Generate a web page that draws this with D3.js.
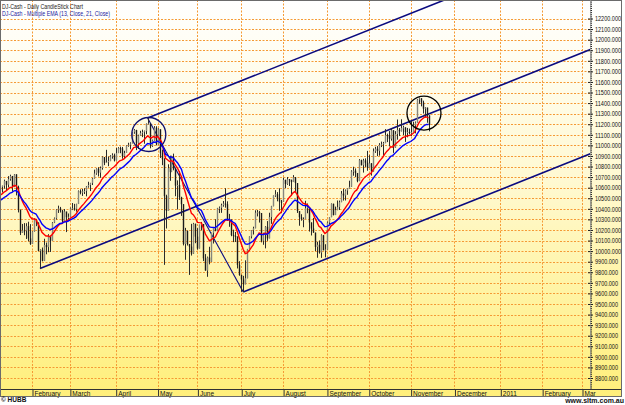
<!DOCTYPE html>
<html>
<head>
<meta charset="utf-8" />
<title>DJ-Cash - Daily CandleStick Chart</title>
<style>
body { margin: 0; background: #fff; }
svg { display: block; }
</style>
</head>
<body>
<div id="chart"></div>
<script src="https://d3js.org/d3.v7.min.js"></script>
<script>
// DJ-Cash daily bars, 4 Jan 2010 .. 12 Nov 2010 (one entry per trading day)
var opens = [
10430,10583,10572,10574,10607,10619,10664,10628,10681,10711,10610,10726,10604,10390,10173,10196,10194,10236,10120,
10067,10185,10297,10271,10003,10013,9908,10058,10038,10145,10099,10269,10310,10392,10403,10383,10283,10375,10321,
10325,10404,10405,10397,10445,10567,10553,10565,10568,10612,10625,10643,10686,10734,10779,10742,10786,10889,10836,10842,10851,10896,10907,
10857,10927,10974,10970,10898,10928,10998,11006,11019,11124,11145,11019,11093,11118,11125,11135,11205,11206,10992,11046,11168,
11009,11152,10926,10868,10520,10380,10785,10749,10897,10782,10620,10625,10510,10444,10068,10193,10067,10043,9975,10259,
10137,10025,10250,10256,9932,9816,9940,9899,10173,10212,10191,10405,10410,10434,10450,10443,10294,10298,10152,10144,10138,9870,
9774,9732,9686,9744,10019,10139,10198,10216,10364,10367,10360,10098,10155,10230,10120,10322,10425,10525,10538,10497,10468,
10466,10674,10636,10680,10675,10653,10699,10644,10379,10320,10303,10303,10406,10416,10271,10214,10175,10040,10060,9986,10150,10010,
10015,10270,10321,10448,10341,10388,10416,10463,10544,10526,10573,10595,10608,10754,10761,10739,10662,10860,10813,10858,10836,
10788,10830,10752,10944,10968,10948,11006,11010,11021,11097,11095,11063,11143,10979,11108,11147,11133,11165,11170,11126,11127,
11118,11125,11189,11216,11434,11445,11406,11347,11357,11284
];
var highs = [
10604,10584,10594,10612,10619,10676,10663,10709,10723,10710,10729,10726,10619,10394,10257,10265,10264,10278,10255,
10187,10310,10303,10270,10017,10034,10117,10081,10160,10145,10275,10318,10396,10430,10418,10391,10398,10371,10356,
10412,10455,10447,10448,10574,10584,10589,10594,10616,10656,10646,10692,10770,10783,10793,10800,10896,10888,10958,10895,10907,10925,10922,
10975,10983,10988,10985,10949,11000,11025,11029,11124,11154,11147,11101,11138,11149,11140,11207,11258,11207,11055,11182,11181,
11162,11151,10960,10879,10533,10821,10903,10902,10922,10780,10669,10758,10514,10443,10220,10193,10066,10258,10267,10259,
10217,10250,10276,10255,9972,9948,10041,10174,10213,10302,10409,10422,10449,10474,10594,10471,10352,10298,10203,10181,10138,9905,
9777,9766,9913,10021,10139,10199,10231,10386,10389,10381,10360,10174,10236,10284,10363,10428,10526,10577,10558,10594,10484,
10695,10675,10701,10681,10675,10719,10700,10644,10378,10349,10319,10476,10450,10416,10271,10314,10175,10089,10101,10159,10150,10065,
10279,10321,10451,10448,10421,10479,10478,10569,10589,10583,10596,10666,10765,10798,10782,10739,10870,10865,10873,10877,10948,
10907,10832,10971,10987,10993,11021,11036,11033,11154,11111,11136,11160,11142,11135,11245,11164,11247,11186,11170,11165,11159,
11233,11224,11226,11439,11452,11445,11423,11361,11357,11284
];
var lows = [
10430,10522,10546,10505,10554,10591,10569,10602,10666,10561,10605,10527,10366,10152,10172,10150,10115,10093,10059,
10067,10185,10236,9998,9835,9903,9908,9970,9990,9992,10100,10265,10299,10361,10365,10261,10283,10180,10285,
10325,10388,10383,10373,10446,10537,10522,10540,10518,10600,10568,10625,10686,10722,10706,10693,10770,10813,10836,10803,10851,10874,10848,
10857,10927,10926,10874,10875,10928,10987,10963,11019,11110,10955,10966,11092,11078,11016,11105,11199,10972,10985,11044,11000,
11009,10881,10813,9870,10214,10388,10665,10747,10764,10519,10394,10484,10333,10054,9918,10053,9775,9958,9974,10075,
10014,10025,10196,9906,9815,9757,9875,9899,10072,10188,10191,10360,10362,10420,10411,10285,10230,10141,10085,10086,9836,9767,
9615,9614,9686,9743,10019,10120,10157,10216,10328,10270,10083,10060,10026,10097,10121,10258,10424,10513,10471,10381,10359,
10466,10595,10627,10616,10523,10654,10560,10361,10240,10288,10226,10303,10358,10185,10148,10174,10000,9937,9976,9936,10006,9941,
10015,10255,10321,10338,10341,10387,10389,10463,10478,10479,10533,10591,10608,10713,10701,10651,10662,10810,10743,10796,10760,
10788,10714,10752,10929,10898,10903,10984,10904,11021,11031,10990,11045,10929,10978,11054,11088,11132,11098,11033,11076,11104,
11088,11124,11114,11216,11393,11369,11301,11263,11214,11133
];
var closes = [
10583,10572,10574,10607,10619,10664,10628,10681,10711,10610,10726,10604,10390,10173,10196,10194,10236,10120,10067,
10185,10297,10271,10003,10013,9908,10058,10038,10145,10099,10269,10310,10392,10403,10383,10283,10375,10321,10325,
10404,10405,10397,10445,10567,10553,10565,10568,10612,10625,10643,10686,10734,10779,10742,10786,10889,10836,10842,10851,10896,10907,10857,
10927,10974,10970,10898,10928,10998,11006,11019,11124,11145,11019,11093,11118,11125,11135,11205,11206,10992,11046,11168,11009,
11152,10926,10868,10520,10380,10785,10749,10897,10782,10620,10625,10510,10444,10068,10193,10067,10043,9975,10259,10137,
10025,10250,10256,9932,9816,9940,9899,10173,10212,10191,10405,10410,10434,10450,10443,10294,10298,10152,10144,10138,9870,9774,
9732,9686,9744,10019,10139,10198,10216,10364,10367,10360,10098,10155,10230,10120,10322,10425,10525,10538,10497,10468,10466,
10674,10636,10680,10675,10653,10699,10644,10379,10320,10303,10303,10406,10416,10271,10214,10175,10040,10060,9986,10150,10010,10015,
10270,10321,10448,10341,10388,10416,10463,10544,10526,10573,10595,10608,10754,10761,10739,10662,10860,10813,10858,10836,10788,
10830,10752,10944,10968,10948,11006,11010,11021,11097,11095,11063,11143,10979,11108,11147,11133,11165,11170,11126,11127,11118,
11125,11189,11216,11434,11445,11406,11347,11357,11284,11193
];

// month labels and the bar number where each month starts (weekdays after the last bar)
var monthLabels = ['February','March','April','May','June','July','August','September','October','November','December','2011','February','Mar'];
var monthStart = [19, 38, 61, 82, 102, 124, 145, 167, 188, 209, 231, 254, 275, 295];

// EMA periods and the EMA level before the first bar
var emaPeriods = [13, 21];
var emaStart = [10480, 10430];
var emaColors = ['#ff0000', '#0000ff'];

// drawn trend lines: [bar, price, bar, price]
var channelSlope = 7.5; // points per bar
var trendLines = [
  [77, 11258, 330, 11258 + 253 * channelSlope],
  [23, 9835, 330, 9835 + 307 * channelSlope],
  [125, 9614, 330, 9614 + 205 * channelSlope],
  [77, 11258, 125, 9614]
];
// ringed areas: bar, price
var rings = [[77.6, 11103], [215.7, 11306]];
var ringColors = ['#101070', '#000000'];
</script>
<script>
(function(d3) {
'use strict';
var width = 625, height = 405;
var plotR = 590, plotB = 389, frameR = 622, frameB = 397;
var font = "'Liberation Sans', Arial, sans-serif";

var x = d3.scaleLinear().domain([19, 295]).range([32, 582]);
var y = d3.scaleLinear().domain([8800, 12200]).range([378, 18.5]);

var svg = d3.select('#chart').append('svg')
  .attr('width', width).attr('height', height);

var defs = svg.append('defs');
var grad = defs.append('linearGradient').attr('id', 'bg')
  .attr('x1', 0).attr('y1', 0).attr('x2', 0).attr('y2', 1);
grad.append('stop').attr('offset', '0%').attr('stop-color', '#ffffff');
grad.append('stop').attr('offset', '45%').attr('stop-color', '#fff9d2');
grad.append('stop').attr('offset', '100%').attr('stop-color', '#ffef7a');
defs.append('clipPath').attr('id', 'plotclip')
  .append('rect').attr('x', 0).attr('y', 0).attr('width', plotR).attr('height', plotB);

svg.append('rect').attr('x', 0).attr('y', 0).attr('width', frameR).attr('height', frameB)
  .attr('fill', 'url(#bg)');

// grid
var grid = svg.append('g').attr('stroke', '#f59a35').attr('stroke-width', 1)
  .attr('stroke-dasharray', '2,1.5');
grid.selectAll('line.h').data(d3.range(8800, 12201, 100)).enter().append('line')
  .attr('x1', 0).attr('x2', plotR)
  .attr('y1', function(d) { return Math.round(y(d)) + 0.5; })
  .attr('y2', function(d) { return Math.round(y(d)) + 0.5; });
grid.selectAll('line.v').data(monthStart).enter().append('line')
  .attr('y1', 0).attr('y2', plotB)
  .attr('x1', function(d) { return Math.round(x(d)) + 0.5; })
  .attr('x2', function(d) { return Math.round(x(d)) + 0.5; });

var plot = svg.append('g').attr('clip-path', 'url(#plotclip)');

// channel lines (under the bars)
plot.selectAll('line.trend').data(trendLines).enter().append('line')
  .attr('x1', function(d) { return x(d[0]); }).attr('y1', function(d) { return y(d[1]); })
  .attr('x2', function(d) { return x(d[2]); }).attr('y2', function(d) { return y(d[3]); })
  .attr('stroke', '#0a0a80')
  .attr('stroke-width', function(d, i) { return i === 3 ? 1.1 : 1.6; });

// candles
var n = Math.min(opens.length, highs.length, lows.length, closes.length);
var bars = d3.range(n).map(function(i) {
  return { i: i, o: opens[i], h: highs[i], l: lows[i], c: closes[i] };
});
plot.selectAll('line.wick').data(bars).enter().append('line')
  .attr('x1', function(d) { return Math.round(x(d.i)) + 0.5; })
  .attr('x2', function(d) { return Math.round(x(d.i)) + 0.5; })
  .attr('y1', function(d) { return y(d.h); })
  .attr('y2', function(d) { return y(d.l); })
  .attr('stroke', '#2a2a2a').attr('stroke-width', 1);
plot.selectAll('rect.body').data(bars).enter().append('rect')
  .attr('x', function(d) { return Math.round(x(d.i)) - 0.2; })
  .attr('width', 1.4)
  .attr('y', function(d) { return y(Math.max(d.o, d.c)); })
  .attr('height', function(d) { return Math.max(1, Math.abs(y(d.o) - y(d.c))); })
  .attr('fill', function(d) { return d.c >= d.o ? '#85857c' : '#1a1a1a'; });

// EMAs
emaPeriods.forEach(function(p, k) {
  var a = 2 / (p + 1), e = emaStart[k];
  var vals = closes.slice(0, n).map(function(c, i) { e = e + a * (c - e); return [i, e]; });
  plot.append('path').datum(vals)
    .attr('d', d3.line().x(function(d) { return x(d[0]); }).y(function(d) { return y(d[1]); }))
    .attr('fill', 'none').attr('stroke', emaColors[k]).attr('stroke-width', 1.4);
});

plot.selectAll('circle.ring').data(rings).enter().append('circle')
  .attr('cx', function(d) { return x(d[0]); }).attr('cy', function(d) { return y(d[1]); })
  .attr('r', 17).attr('fill', 'none')
  .attr('stroke', function(d, i) { return ringColors[i]; }).attr('stroke-width', 1.3);

// right price axis
var minor = d3.axisRight(y).tickValues(d3.range(8700, 12380, 20)).tickSize(2).tickFormat('');
var yAxis = svg.append('g').attr('transform', 'translate(' + plotR + ',0)');
yAxis.call(minor);
var major = svg.append('g').attr('transform', 'translate(' + (plotR - 2) + ',0)')
  .call(d3.axisRight(y).tickValues(d3.range(8800, 12201, 100))
    .tickSize(5).tickFormat(d3.format('.3f')));
svg.selectAll('.domain').remove();
svg.selectAll('.tick line').attr('stroke', '#222');
major.selectAll('text').attr('x', 7).attr('dy', '0.35em')
  .attr('font-family', font).attr('font-size', '6.5px').attr('fill', '#111')
  .attr('textLength', function(d) { return d >= 10000 ? 26 : 23; })
  .attr('lengthAdjust', 'spacingAndGlyphs');

// bottom date axis
svg.append('line').attr('x1', 0).attr('x2', frameR).attr('y1', plotB + 0.5).attr('y2', plotB + 0.5)
  .attr('stroke', '#333');
var xAxis = svg.append('g').attr('transform', 'translate(0.5,' + plotB + ')')
  .call(d3.axisBottom(x).tickValues(monthStart).tickSize(frameB - plotB)
    .tickFormat(function(d, i) { return monthLabels[i]; }));
xAxis.select('.domain').remove();
xAxis.selectAll('.tick line').attr('stroke', '#333');
xAxis.selectAll('text').attr('text-anchor', 'start').attr('x', 1.5).attr('y', 6.5).attr('dy', 0)
  .attr('font-family', font).attr('font-size', '6.5px').attr('fill', '#111');

// frame
svg.append('rect').attr('x', 0.5).attr('y', 0.5).attr('width', frameR - 1).attr('height', frameB - 1)
  .attr('fill', 'none').attr('stroke', '#6b6b6b');
svg.append('line').attr('x1', plotR + 0.5).attr('x2', plotR + 0.5).attr('y1', 0).attr('y2', plotB)
  .attr('stroke', '#9a9a9a').attr('stroke-width', 0.6);

// titles
svg.append('text').attr('x', 2).attr('y', 8.5).text('DJ-Cash - Daily CandleStick Chart')
  .attr('font-family', font).attr('font-size', '7px').attr('fill', '#222')
  .attr('textLength', 81).attr('lengthAdjust', 'spacingAndGlyphs');
svg.append('text').attr('x', 2).attr('y', 15.5).text('DJ-Cash - Multiple EMA (13, Close, 21, Close)')
  .attr('font-family', font).attr('font-size', '7px').attr('fill', '#1a1aa0')
  .attr('textLength', 108).attr('lengthAdjust', 'spacingAndGlyphs');

svg.append('text').attr('x', 1).attr('y', 402).text('\u00a9 HUBB')
  .attr('font-family', font).attr('font-size', '6.5px').attr('font-weight', 'bold').attr('fill', '#111');
svg.append('text').attr('x', 624).attr('y', 403).attr('text-anchor', 'end').text('www.sltm.com.au')
  .attr('font-family', font).attr('font-size', '7px').attr('font-weight', 'bold').attr('fill', '#111');
})(window.d3);
</script>
</body>
</html>
